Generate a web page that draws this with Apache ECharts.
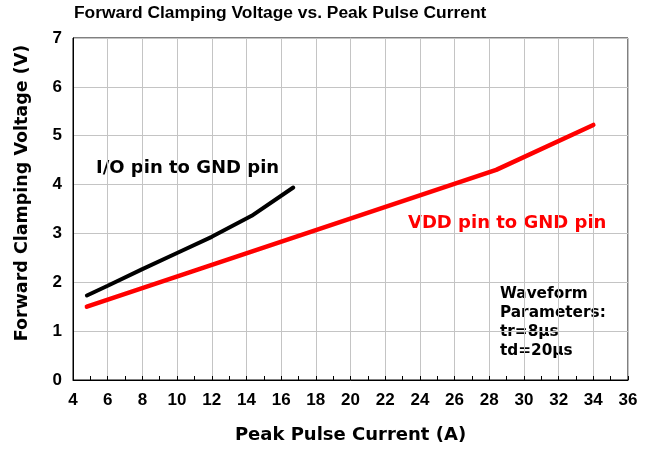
<!DOCTYPE html>
<html>
<head>
<meta charset="utf-8">
<script src="https://cdn.jsdelivr.net/npm/echarts@6/dist/echarts.min.js"></script>
<style>html,body{margin:0;padding:0;background:#fff}#c{width:652px;height:450px}</style>
</head>
<body>
<div id="c"></div>
<script>
// Data
const ioCurrent = [4.8, 6, 8, 10, 12, 14.3, 16.7];
const ioVoltage = [1.73, 1.93, 2.27, 2.6, 2.93, 3.36, 3.94];
const vddCurrent = [4.8, 28.4, 34];
const vddVoltage = [1.5, 4.3, 5.22];
const titleText = 'Forward Clamping Voltage vs. Peak Pulse Current';
const xName = 'Peak Pulse Current (A)';
const yName = 'Forward Clamping Voltage (V)';
const ioLabel = 'I/O pin to GND pin';
const vddLabel = 'VDD pin to GND pin';
const noteLines = ['Waveform', 'Parameters:', 'tr=8\u03bcs', 'td=20\u03bcs'];

const pair = (xs, ys) => xs.map((x, i) => [x, ys[i]]);
const tickFont = {fontFamily: 'Liberation Sans', fontWeight: 'bold', fontSize: 17, color: '#000'};

const chart = echarts.init(document.getElementById('c'));
chart.setOption({
  animation: false,
  backgroundColor: '#fff',
  title: {
    text: titleText, left: 74, top: 5, padding: 0,
    textStyle: {fontFamily: 'Liberation Sans', fontWeight: 'bold', fontSize: 17.4, color: '#000'}
  },
  grid: {left: 73, right: 24, top: 38, bottom: 70, show: true, borderColor: '#000', borderWidth: 1, backgroundColor: 'transparent'},
  xAxis: {
    type: 'value', min: 4, max: 36, interval: 2,
    name: xName, nameLocation: 'middle', nameGap: 46,
    nameTextStyle: {fontFamily: 'DejaVu Sans', fontWeight: 'bold', fontSize: 18, color: '#000'},
    axisLine: {show: true, lineStyle: {color: '#000', width: 1}},
    axisTick: {show: true, inside: true, length: 4, lineStyle: {color: '#000'}},
    minorTick: {show: true, splitNumber: 2, length: 4, lineStyle: {color: '#000'}},
    splitLine: {show: true, lineStyle: {color: '#c4c4c4', width: 1}},
    axisLabel: Object.assign({margin: 12}, tickFont)
  },
  yAxis: {
    type: 'value', min: 0, max: 7, interval: 1,
    axisLine: {show: true, lineStyle: {color: '#000', width: 1}},
    axisTick: {show: false},
    splitLine: {show: true, lineStyle: {color: '#c4c4c4', width: 1}},
    axisLabel: Object.assign({margin: 11}, tickFont)
  },
  graphic: [
    {type: 'text', x: 22, y: 193, rotation: Math.PI / 2,
     style: {text: yName, font: 'bold 17.5px "DejaVu Sans"', fill: '#000', align: 'center', verticalAlign: 'middle', textAlign: 'center', textVerticalAlign: 'middle'}},
    {type: 'text', left: 96, top: 159.5,
     style: {text: ioLabel, font: 'bold 18px "DejaVu Sans"', fill: '#000'}},
    {type: 'text', left: 408, top: 214.5,
     style: {text: vddLabel, font: 'bold 18px "DejaVu Sans"', fill: '#ff0000'}},
    {type: 'text', left: 500, top: 285,
     style: {text: noteLines.join('\n'), font: 'bold 15.3px "DejaVu Sans"', fill: '#000', lineHeight: 19}}
  ],
  series: [
    {type: 'line', name: ioLabel, data: pair(ioCurrent, ioVoltage), showSymbol: false, symbol: 'none',
     lineStyle: {color: '#000', width: 4, cap: 'round'}, z: 3},
    {type: 'line', name: vddLabel, data: pair(vddCurrent, vddVoltage), showSymbol: false, symbol: 'none',
     lineStyle: {color: '#ff0000', width: 4.5, cap: 'round'}, z: 2}
  ]
});
</script>
</body>
</html>
